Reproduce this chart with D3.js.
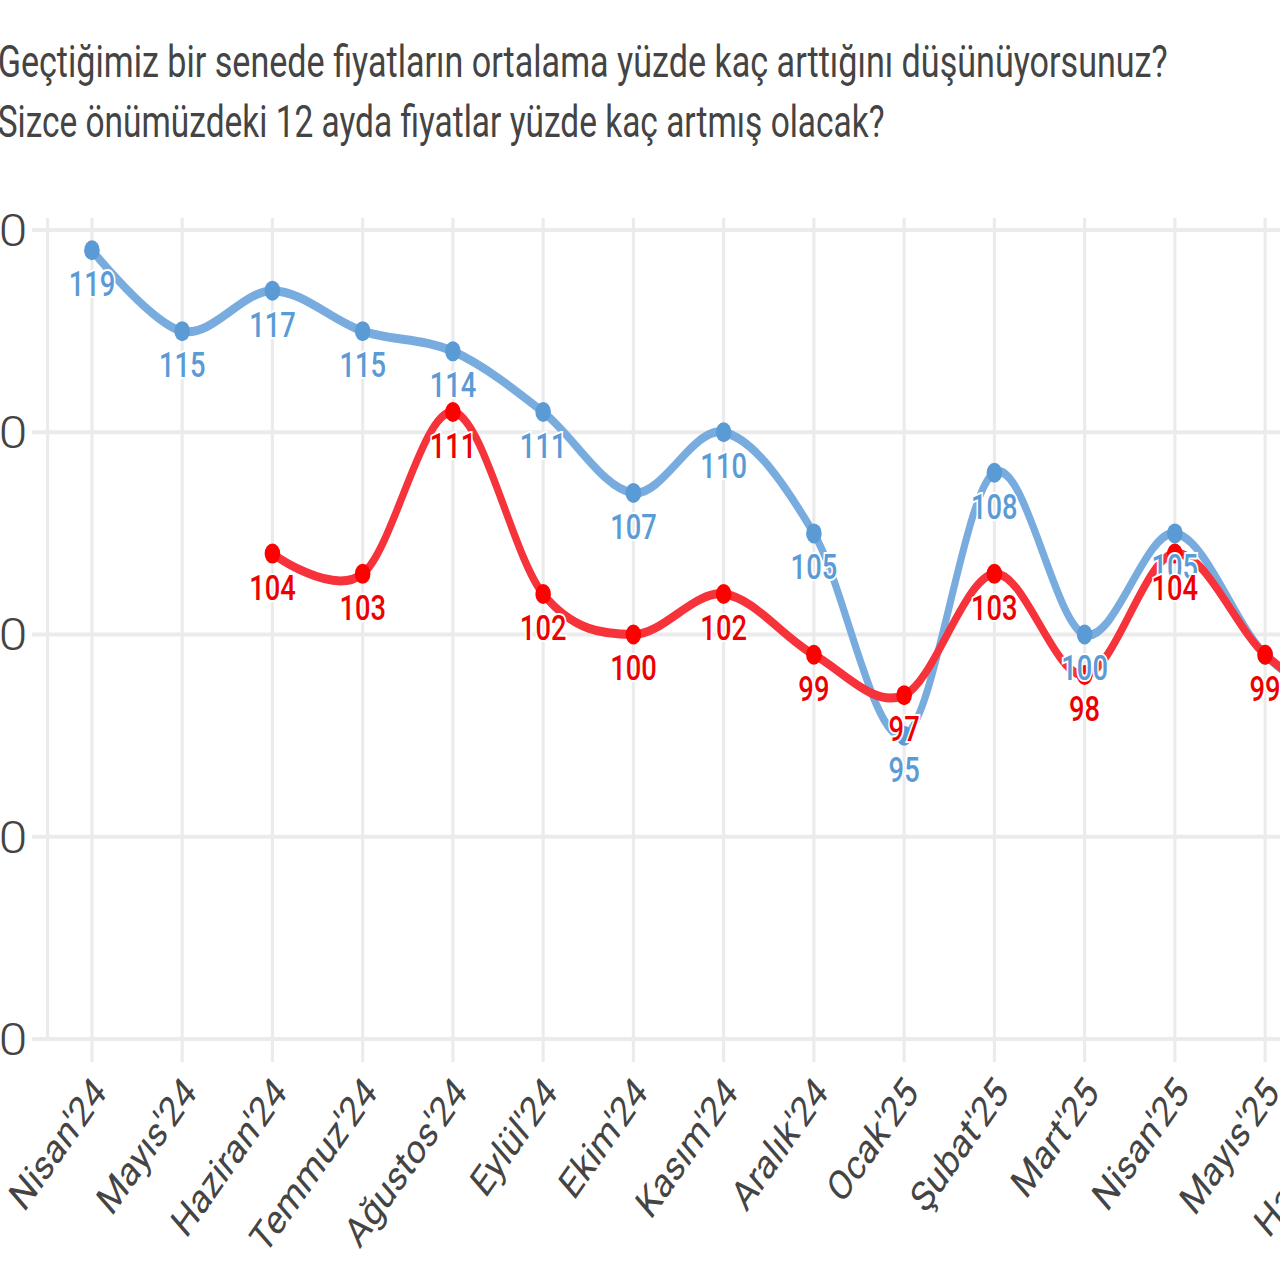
<!DOCTYPE html>
<html>
<head>
<meta charset="utf-8">
<script src="https://cdn.jsdelivr.net/npm/d3@7"></script>
<style>
	body{margin:0;background:#fff;overflow:hidden}
</style>
</head>
<body>
<script>
const months=["Nisan'24","Mayıs'24","Haziran'24","Temmuz'24","Ağustos'24","Eylül'24","Ekim'24","Kasım'24","Aralık'24","Ocak'25","Şubat'25","Mart'25","Nisan'25","Mayıs'25","Haziran'25"]
// geçen yıl algısı (mavi) ve gelecek 12 ay beklentisi (kırmızı)
const pastYear=[119,115,117,115,114,111,107,110,105,95,108,100,105,99,96]
const nextYear=[null,null,104,103,111,102,100,102,99,97,103,98,104,99,96]
const yTicks=[80,90,100,110,120]
const titleLines=["Geçtiğimiz bir senede fiyatların ortalama yüzde kaç arttığını düşünüyorsunuz?","Sizce önümüzdeki 12 ayda fiyatlar yüzde kaç artmış olacak?"]

// the picture is squeezed sideways, so draw wide and let the viewBox squash it
const sx=0.78
const W=1280/sx, H=1280
const left=60, step=115.7

let svg=d3.select('body').append('svg')
	.attr('width',1280)
	.attr('height',1280)
	.attr('viewBox',`0 0 ${W} ${H}`)
	.attr('preserveAspectRatio','none')
	.style('font-family','Roboto, sans-serif')

let xScale=d3.scalePoint()
	.domain(months)
	.range([left,left+step*months.length])
	.padding(0.5)

let yScale=d3.scaleLinear()
	.domain([80,120])
	.range([1039,230])

// title
svg.append('g')
	.selectAll('text')
	.data(titleLines)
	.join('text')
	.attr('x',-3)
	.attr('y',(d,i)=>77+i*60)
	.attr('font-size',45)
	.attr('fill','#444')
	.attr('textLength',(d,i)=>i==0?1500:1137)
	.attr('lengthAdjust','spacingAndGlyphs')
	.text(d=>d)

// grid
svg.append('g')
	.attr('stroke','#ebebeb')
	.attr('stroke-width',4)
	.selectAll('line')
	.data(yTicks)
	.join('line')
	.attr('x1',41)
	.attr('x2',W)
	.attr('y1',d=>yScale(d))
	.attr('y2',d=>yScale(d))

svg.append('line')
	.attr('x1',left+1).attr('x2',left+1)
	.attr('y1',218).attr('y2',1041)
	.attr('stroke','#ebebeb')
	.attr('stroke-width',4)

svg.append('g')
	.attr('stroke','#ebebeb')
	.attr('stroke-width',4)
	.selectAll('line')
	.data(months)
	.join('line')
	.attr('x1',d=>xScale(d))
	.attr('x2',d=>xScale(d))
	.attr('y1',218)
	.attr('y2',1062)

// y axis labels (wider glyphs in the source)
svg.append('g')
	.selectAll('text')
	.data(yTicks)
	.join('text')
	.attr('transform',d=>`translate(35,${yScale(d)}) scale(1.5,1)`)
	.attr('dy','0.36em')
	.attr('text-anchor','end')
	.attr('font-size',44)
	.attr('font-weight',300)
	.attr('fill','#444')
	.text(d=>d)

// x axis labels
svg.append('g')
	.selectAll('text')
	.data(months)
	.join('text')
	.attr('transform',d=>`translate(${xScale(d)+9},${1084}) rotate(-48)`)
	.attr('dy','0.36em')
	.attr('text-anchor','end')
	.attr('font-size',42)
	.attr('fill','#444')
	.text(d=>d)

const series=[
	{values:pastYear,line:'#78acdf',dot:'#5b9bd5',label:'#5b9bd5'},
	{values:nextYear,line:'#f6323a',dot:'#ff0000',label:'#ee0000'}
]

const line=d3.line()
	.defined(d=>d!=null)
	.x((d,i)=>xScale(months[i]))
	.y(d=>yScale(d))
	.curve(d3.curveCatmullRom.alpha(0))

series.forEach(s=>{
	svg.append('path')
		.datum(s.values)
		.attr('fill','none')
		.attr('stroke',s.line)
		.attr('stroke-width',9)
		.attr('stroke-linejoin','round')
		.attr('stroke-linecap','round')
		.attr('d',line)
})

series.forEach(s=>{
	svg.append('g')
		.attr('fill',s.dot)
		.selectAll('circle')
		.data(s.values.map((v,i)=>({v,m:months[i]})).filter(d=>d.v!=null))
		.join('circle')
		.attr('cx',d=>xScale(d.m))
		.attr('cy',d=>yScale(d.v))
		.attr('r',10)
})

series.forEach(s=>{
	svg.append('g')
		.attr('font-size',35)
		.attr('font-weight',500)
		.attr('text-anchor','middle')
		.selectAll('text')
		.data(s.values.map((v,i)=>({v,m:months[i]})).filter(d=>d.v!=null))
		.join('text')
		.attr('x',d=>xScale(d.m))
		.attr('y',d=>yScale(d.v)+46)
		.attr('fill',s.label)
		.attr('stroke','#fff')
		.attr('stroke-width',4)
		.attr('paint-order','stroke')
		.text(d=>Math.round(d.v))
})
</script>
</body>
</html>
